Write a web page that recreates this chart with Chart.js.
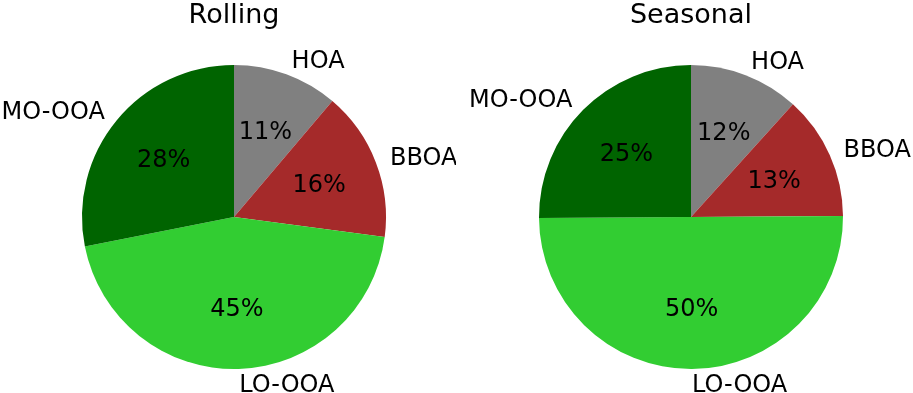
<!DOCTYPE html>
<html>
<head>
<meta charset="utf-8">
<script src="https://cdn.jsdelivr.net/npm/chart.js@4"></script>
<style>
    html, body { margin: 0; padding: 0; background: #ffffff; }
    .wrap { position: relative; width: 913px; height: 393px; }
    canvas { position: absolute; top: 0; }
    #rollingChart { left: 0; }
    #seasonalChart { left: 456px; }
</style>
</head>
<body>
<div class="wrap">
    <canvas id="rollingChart" width="456" height="393"></canvas>
    <canvas id="seasonalChart" width="457" height="393"></canvas>
</div>
<script>
// Factor names, in drawing order (clockwise from 12 o'clock)
const factors = ['HOA', 'BBOA', 'LO-OOA', 'MO-OOA'];
const factorColors = ['#808080', '#a52a2a', '#32cd32', '#006400'];

// Contributions (%)
const rollingValues = [11.2, 15.9, 44.8, 28.1];
const seasonalValues = [11.7, 13.2, 50.0, 25.1];

const FONT = '"DejaVu Sans", sans-serif';
const LABEL_SIZE = 24;
const TITLE_SIZE = 27;

/**
 * Draws the title, outer labels and percentage text like a matplotlib pie
 */
const pieLabels = {
    id: 'pieLabels',
    afterDatasetsDraw(chart) {
        const ctx = chart.ctx;
        const meta = chart.getDatasetMeta(0);
        const values = chart.data.datasets[0].data;
        const total = values.reduce((a, b) => a + b, 0);
        // baseline shift so the text box is centred on the anchor point
        const shift = LABEL_SIZE * 0.33;

        ctx.save();
        ctx.fillStyle = '#000000';
        ctx.font = LABEL_SIZE + 'px ' + FONT;
        ctx.textBaseline = 'alphabetic';

        meta.data.forEach((arc, i) => {
            const mid = (arc.startAngle + arc.endAngle) / 2;
            const r = arc.outerRadius;

            // category label at 1.1 radius
            const lx = arc.x + Math.cos(mid) * r * 1.1;
            const ly = arc.y + Math.sin(mid) * r * 1.1;
            ctx.textAlign = Math.cos(mid) > 0 ? 'left' : 'right';
            ctx.fillText(chart.data.labels[i], lx, ly + shift);

            // percentage at 0.6 radius
            const px = arc.x + Math.cos(mid) * r * 0.6;
            const py = arc.y + Math.sin(mid) * r * 0.6;
            ctx.textAlign = 'center';
            ctx.fillText(Math.round(values[i] / total * 100) + '%', px, py + shift);
        });

        // title above the pie
        const first = meta.data[0];
        ctx.font = TITLE_SIZE + 'px ' + FONT;
        ctx.textAlign = 'center';
        ctx.fillText(chart.options.plugins.pieTitle.text, first.x, 23);
        ctx.restore();
    }
};

function makePie(canvasId, title, values, padLeft) {
    const ctx = document.getElementById(canvasId).getContext('2d');
    return new Chart(ctx, {
        type: 'pie',
        data: {
            labels: factors,
            datasets: [{
                data: values,
                backgroundColor: factorColors,
                borderWidth: 0
            }]
        },
        options: {
            responsive: false,
            animation: false,
            layout: {
                padding: { left: padLeft, right: 70, top: 65, bottom: 24 }
            },
            plugins: {
                legend: { display: false },
                tooltip: { enabled: false },
                pieTitle: { text: title }
            }
        },
        plugins: [pieLabels]
    });
}

document.addEventListener('DOMContentLoaded', function() {
    window.rollingChart = makePie('rollingChart', 'Rolling', rollingValues, 82);
    window.seasonalChart = makePie('seasonalChart', 'Seasonal', seasonalValues, 83);
});
</script>
</body>
</html>
